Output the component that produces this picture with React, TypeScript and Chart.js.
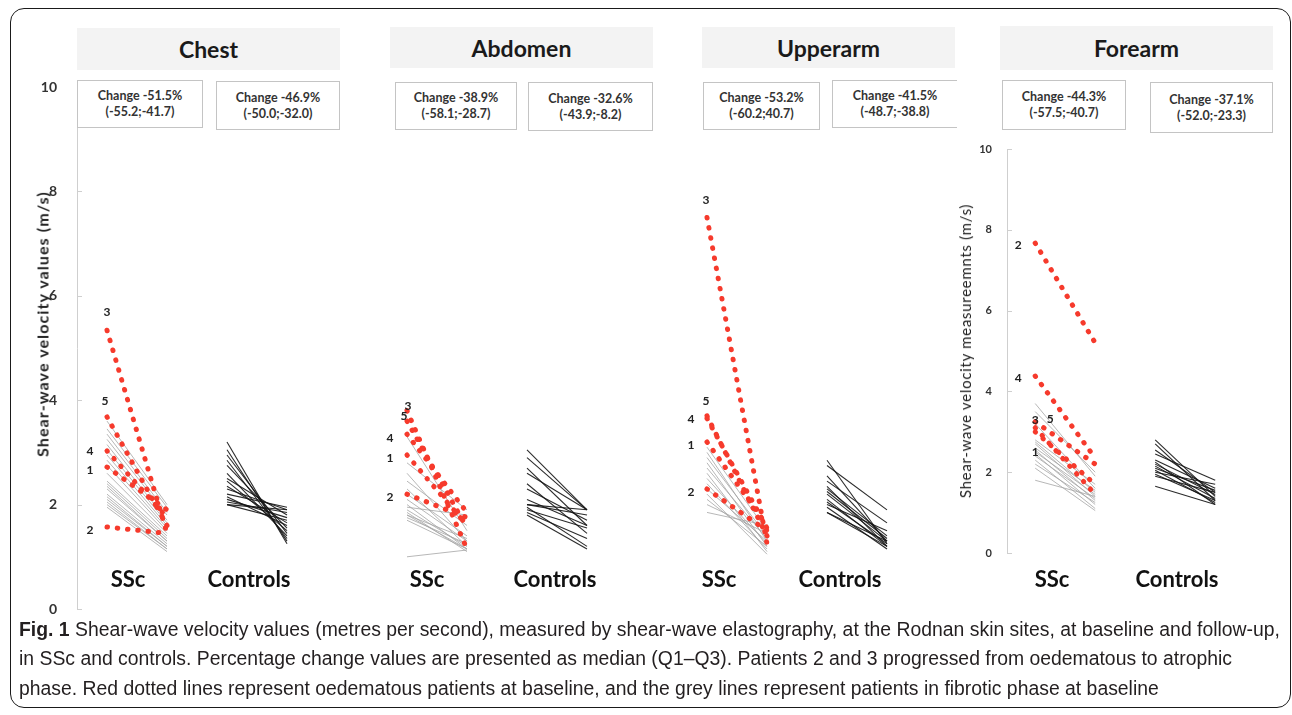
import React, { useEffect, useLayoutEffect, useRef } from 'react';
import { Chart, registerables } from 'chart.js';
Chart.register(...registerables);

const FONT = 'Lato, "Open Sans", "DejaVu Sans", sans-serif';
const CAPTION_FONT = '"Liberation Sans Narrow", "Liberation Sans", Arial, sans-serif';

// ---------- labels ----------
const panelNames = ['Chest', 'Abdomen', 'Upperarm', 'Forearm'];
const groupNames = ['SSc', 'Controls'];
const sscChange = ['Change -51.5%', 'Change -38.9%', 'Change -53.2%', 'Change -44.3%'];
const sscRange = ['(-55.2;-41.7)', '(-58.1;-28.7)', '(-60.2;40.7)', '(-57.5;-40.7)'];
const ctrlChange = ['Change -46.9%', 'Change -32.6%', 'Change -41.5%', 'Change -37.1%'];
const ctrlRange = ['(-50.0;-32.0)', '(-43.9;-8.2)', '(-48.7;-38.8)', '(-52.0;-23.3)'];
const patientIds = ['1', '2', '3', '4', '5'];
const yTitleMain = 'Shear-wave velocity values (m/s)';
const yTitleForearm = 'Shear-wave velocity measureemnts (m/s)';
const captionLines = [
  'Shear-wave velocity values (metres per second), measured by shear-wave elastography, at the Rodnan skin sites, at baseline and follow-up,',
  'in SSc and controls. Percentage change values are presented as median (Q1–Q3). Patients 2 and 3 progressed from oedematous to atrophic',
  'phase. Red dotted lines represent oedematous patients at baseline, and the grey lines represent patients in fibrotic phase at baseline',
];

// ---------- data (m/s), baseline -> follow-up ----------
// Chest
const chestRedBase = [2.72, 1.57, 5.34, 3.03, 3.68];
const chestRedFollow = [1.9, 1.45, 1.45, 1.75, 1.6];
const chestGreyBase = [3.6, 3.45, 3.35, 3.25, 3.15, 3.05, 2.95, 2.85, 2.75, 2.6, 2.45, 2.4, 2.35, 2.3, 2.2, 2.15, 2.1, 2.05, 2.0, 1.95];
const chestGreyFollow = [2.0, 1.95, 1.85, 1.8, 1.7, 1.65, 1.6, 1.55, 1.5, 1.45, 1.4, 1.35, 1.3, 1.3, 1.25, 1.2, 1.2, 1.15, 1.15, 1.1];
const chestCtrlBase = [3.2, 3.05, 2.95, 2.85, 2.75, 2.6, 2.5, 2.45, 2.35, 2.3, 2.2, 2.15, 2.1, 2.05, 2.0, 2.0];
const chestCtrlFollow = [1.25, 1.3, 1.45, 1.35, 1.55, 1.4, 1.8, 1.5, 1.65, 1.9, 1.95, 1.6, 1.75, 1.85, 1.9, 1.7];
// Abdomen
const abdRedBase = [2.95, 2.2, 3.8, 3.35, 3.6];
const abdRedFollow = [1.6, 1.75, 1.15, 1.85, 1.55];
const abdGreyBase = [3.3, 2.8, 2.6, 2.45, 2.3, 2.2, 2.1, 2.0, 1.95, 1.9, 1.85, 1.8, 1.8, 1.75, 1.7, 1.0];
const abdGreyFollow = [1.5, 1.9, 1.3, 1.6, 1.2, 1.4, 1.3, 1.15, 1.8, 1.2, 1.1, 1.35, 1.15, 1.25, 1.15, 1.13];
const abdCtrlBase = [3.05, 2.9, 2.7, 2.6, 2.4, 2.3, 2.1, 2.0, 2.0, 1.95, 1.9, 1.85, 1.8];
const abdCtrlFollow = [1.9, 1.9, 1.6, 1.9, 1.45, 1.7, 1.6, 1.8, 1.9, 1.2, 1.55, 1.35, 1.15];
// Upperarm
const upRedBase = [3.2, 2.3, 7.5, 3.65, 3.7];
const upRedFollow = [1.6, 1.5, 1.25, 1.55, 1.4];
const upGreyBase = [3.1, 3.0, 2.9, 2.8, 2.7, 2.6, 2.5, 2.4, 2.3, 2.2, 2.1, 2.0, 1.85];
const upGreyFollow = [1.5, 1.3, 1.4, 1.2, 1.35, 1.1, 1.25, 1.15, 1.3, 1.05, 1.2, 1.45, 1.6];
const upCtrlBase = [2.85, 2.75, 2.55, 2.45, 2.35, 2.3, 2.25, 2.2, 2.1, 2.05, 2.0, 1.95, 1.85, 1.85];
const upCtrlFollow = [1.25, 1.9, 1.3, 1.65, 1.2, 1.4, 1.35, 1.3, 1.2, 1.25, 1.5, 1.15, 1.3, 1.2];
// Forearm
const foreRedBase = [3.0, 7.67, 3.1, 4.38, 3.25];
const foreRedFollow = [1.7, 5.2, 1.45, 2.35, 2.2];
const foreGreyBase = [3.7, 3.5, 3.2, 2.8, 2.75, 2.7, 2.6, 2.55, 2.5, 2.45, 2.4, 2.3, 2.2, 2.1, 1.8];
const foreGreyFollow = [1.9, 2.0, 1.6, 1.7, 1.5, 1.4, 1.55, 1.3, 1.45, 1.2, 1.35, 1.1, 1.25, 1.05, 1.4];
const foreCtrlBase = [2.8, 2.7, 2.55, 2.45, 2.3, 2.25, 2.2, 2.15, 2.1, 2.05, 2.0, 1.95, 1.9, 1.65];
const foreCtrlFollow = [1.4, 1.3, 1.5, 1.8, 1.6, 1.2, 1.45, 1.35, 1.55, 1.25, 1.7, 1.3, 1.5, 1.2];

// ---------- styling / layout ----------
const RED = 'rgb(246,58,44)';
const GREY = 'rgba(165,165,165,0.8)';
const BLACK = 'rgba(20,20,20,0.9)';
// patient label offsets [dx, dy] relative to baseline point, per patient 1..5
const labelOffsets = [
  [[-17, 3], [-17, 3], [0, -18], [-17, 0], [-2, -16]],
  [[-17, 3], [-17, 3], [1, -5], [-17, 4], [-3, -5]],
  [[-16, 3], [-16, 3], [-1, -17], [-16, 1], [-1, -15]],
  [[0, 20], [-17, 2], [0, -8], [-17, 2], [15, -3]],
];

type Pair = [number[], number[]];

function panelDatasets(slot: number, panel: number, red: Pair, grey: Pair, ctrl: Pair) {
  const x0 = slot * 5;
  const ds: any[] = [];
  const line = (x: number, b: number, f: number) => [{ x, y: b }, { x: x + 1, y: f }];
  grey[0].forEach((b, i) =>
    ds.push({ data: line(x0, b, grey[1][i]), borderColor: GREY, borderWidth: 1, pointRadius: 0, order: 2 })
  );
  ctrl[0].forEach((b, i) =>
    ds.push({ data: line(x0 + 2, b, ctrl[1][i]), borderColor: BLACK, borderWidth: 1.1, pointRadius: 0, order: 1 })
  );
  red[0].forEach((b, i) =>
    ds.push({
      data: line(x0, b, red[1][i]),
      borderColor: RED,
      borderWidth: 5,
      borderDash: [0.5, 9.8],
      borderCapStyle: 'round',
      pointRadius: 0,
      order: 0,
      patient: patientIds[i],
      labelDx: labelOffsets[panel][i][0],
      labelDy: labelOffsets[panel][i][1],
    })
  );
  return ds;
}

const innerTicks = {
  id: 'innerTicks',
  afterDraw(chart: any) {
    const y = chart.scales.y;
    const ctx = chart.ctx;
    ctx.save();
    ctx.strokeStyle = '#cfcfcf';
    ctx.lineWidth = 1;
    y.ticks.forEach((t: any) => {
      const py = Math.round(y.getPixelForValue(t.value)) + 0.5;
      ctx.beginPath();
      ctx.moveTo(chart.chartArea.left, py);
      ctx.lineTo(chart.chartArea.left + 5, py);
      ctx.stroke();
    });
    ctx.restore();
  },
};

const patientLabels = {
  id: 'patientLabels',
  afterDatasetsDraw(chart: any) {
    const ctx = chart.ctx;
    ctx.save();
    ctx.font = `bold 12px ${FONT}`;
    ctx.fillStyle = '#222';
    ctx.textAlign = 'center';
    ctx.textBaseline = 'middle';
    chart.data.datasets.forEach((ds: any, i: number) => {
      if (!ds.patient) return;
      const pt = chart.getDatasetMeta(i).data[0];
      ctx.fillText(ds.patient, pt.x + ds.labelDx, pt.y + ds.labelDy);
    });
    ctx.restore();
  },
};

function makeConfig(datasets: any[], yWidth: number, tickPad: number, tickSize: number, xMin: number, xMax: number, padding: any): any {
  return {
    type: 'line',
    data: { datasets },
    options: {
      animation: false,
      responsive: false,
      events: [],
      layout: { padding },
      plugins: { legend: { display: false }, tooltip: { enabled: false } },
      elements: { line: { tension: 0 } },
      scales: {
        x: { type: 'linear', min: xMin, max: xMax, display: false },
        y: {
          type: 'linear',
          min: 0,
          max: 10,
          afterFit: (s: any) => {
            s.width = yWidth;
          },
          grid: { display: false, drawTicks: false },
          border: { display: true, color: '#cfcfcf', width: 1 },
          ticks: { stepSize: 2, padding: tickPad, color: '#333', font: { family: FONT, size: tickSize, weight: 'bold' } },
        },
      },
    },
    plugins: [innerTicks, patientLabels],
  };
}

const abs = (l: number, t: number, w: number, h: number): React.CSSProperties => ({
  position: 'absolute', left: l, top: t, width: w, height: h, boxSizing: 'border-box',
});

// header & box geometry per panel
const headerBoxes = [[77, 28, 263, 42], [390, 27, 263, 41], [702, 27, 253, 41], [1000, 26, 273, 44]];
const sscBoxes = [[77, 80, 126, 48], [395, 82, 122, 48], [703, 82, 117, 48], [1002, 80, 124, 50]];
const ctrlBoxes = [[216, 81, 124, 49], [528, 82, 125, 49], [832, 80, 125, 48], [1150, 82, 123, 51]];
const groupLabelPos = [[128, 249], [427, 555], [719, 840], [1052, 1177]];
const captionFirstWidth = 1261;
const captionTops = [617, 646, 676];

export default function App() {
  const c1 = useRef<HTMLCanvasElement>(null);
  const c2 = useRef<HTMLCanvasElement>(null);
  const capRefs = useRef<(HTMLDivElement | null)[]>([]);

  useEffect(() => {
    const ds1 = [
      ...panelDatasets(0, 0, [chestRedBase, chestRedFollow], [chestGreyBase, chestGreyFollow], [chestCtrlBase, chestCtrlFollow]),
      ...panelDatasets(1, 1, [abdRedBase, abdRedFollow], [abdGreyBase, abdGreyFollow], [abdCtrlBase, abdCtrlFollow]),
      ...panelDatasets(2, 2, [upRedBase, upRedFollow], [upGreyBase, upGreyFollow], [upCtrlBase, upCtrlFollow]),
    ];
    const ds2 = panelDatasets(0, 3, [foreRedBase, foreRedFollow], [foreGreyBase, foreGreyFollow], [foreCtrlBase, foreCtrlFollow]);
    const ch1 = new Chart(c1.current!, makeConfig(ds1, 77, 20, 14, -0.5, 14.3, { top: 87, bottom: 106, left: 0, right: 5 }));
    const ch2 = new Chart(c2.current!, makeConfig(ds2, 67, 15, 11, -0.47, 3.53, { top: 149, bottom: 162, left: 0, right: 45 }));
    return () => {
      ch1.destroy();
      ch2.destroy();
    };
  }, []);

  useLayoutEffect(() => {
    const first = capRefs.current[0];
    if (!first) return;
    capRefs.current.forEach((el) => el && (el.style.transform = 'none'));
    const w = first.getBoundingClientRect().width;
    if (w <= 0) return;
    const k = captionFirstWidth / w;
    capRefs.current.forEach((el) => el && (el.style.transform = `scaleX(${k})`));
  }, []);

  return (
    <div style={{ position: 'absolute', left: 0, top: 0, width: 1292, height: 715, overflow: 'hidden', background: '#fff', fontFamily: FONT }}>
      <div style={{ ...abs(10, 8, 1281, 700), border: '1.5px solid #1a1a1a', borderRadius: 14 }} />
      <canvas ref={c1} width={970} height={715} style={{ position: 'absolute', left: 0, top: 0 }} />
      <canvas ref={c2} width={352} height={715} style={{ position: 'absolute', left: 940, top: 0 }} />

      {panelNames.map((name, i) => {
        const [hx, hy, hw, hh] = headerBoxes[i];
        const [ax, ay, aw, ah] = sscBoxes[i];
        const [bx, by, bw, bh] = ctrlBoxes[i];
        const boxStyle: React.CSSProperties = {
          background: '#fff', border: '1px solid #c4c4c4', display: 'flex', flexDirection: 'column',
          justifyContent: 'center', alignItems: 'center', fontSize: 12.5, fontWeight: 700, color: '#333', lineHeight: '16px',
        };
        return (
          <React.Fragment key={name}>
            <div style={{ ...abs(hx, hy, hw, hh), background: '#f3f3f3', display: 'flex', alignItems: 'center', justifyContent: 'center', fontSize: 23, fontWeight: 700, color: '#1a1a1a' }}>
              {name}
            </div>
            <div style={{ ...abs(ax, ay, aw, ah), ...boxStyle }}>
              <div>{sscChange[i]}</div>
              <div>{sscRange[i]}</div>
            </div>
            <div style={{ ...abs(bx, by, bw, bh), ...boxStyle, ...(i === 2 ? { borderRight: 'none' } : {}) }}>
              <div>{ctrlChange[i]}</div>
              <div>{ctrlRange[i]}</div>
            </div>
            {groupNames.map((g, j) => (
              <div key={g} style={{ position: 'absolute', left: groupLabelPos[i][j], top: 578, transform: 'translate(-50%,-50%)', fontSize: 22, fontWeight: 700, color: '#111', whiteSpace: 'nowrap' }}>
                {g}
              </div>
            ))}
          </React.Fragment>
        );
      })}

      <div style={{ position: 'absolute', left: 42, top: 324, transform: 'translate(-50%,-50%) rotate(-90deg)', fontSize: 16, letterSpacing: 1.1, fontWeight: 700, color: '#222', whiteSpace: 'nowrap' }}>
        {yTitleMain}
      </div>
      <div style={{ position: 'absolute', left: 965, top: 351, transform: 'translate(-50%,-50%) rotate(-90deg)', fontSize: 15, letterSpacing: 0.7, fontWeight: 400, color: '#222', whiteSpace: 'nowrap' }}>
        {yTitleForearm}
      </div>

      {captionLines.map((line, i) => (
        <div
          key={i}
          ref={(el) => {
            capRefs.current[i] = el;
          }}
          style={{ position: 'absolute', left: 19, top: captionTops[i], fontFamily: CAPTION_FONT, fontSize: 20, lineHeight: '24px', color: '#231f20', whiteSpace: 'nowrap', transformOrigin: 'left center' }}
        >
          {i === 0 ? (
            <>
              <b>Fig. 1</b> {line}
            </>
          ) : (
            line
          )}
        </div>
      ))}
    </div>
  );
}
